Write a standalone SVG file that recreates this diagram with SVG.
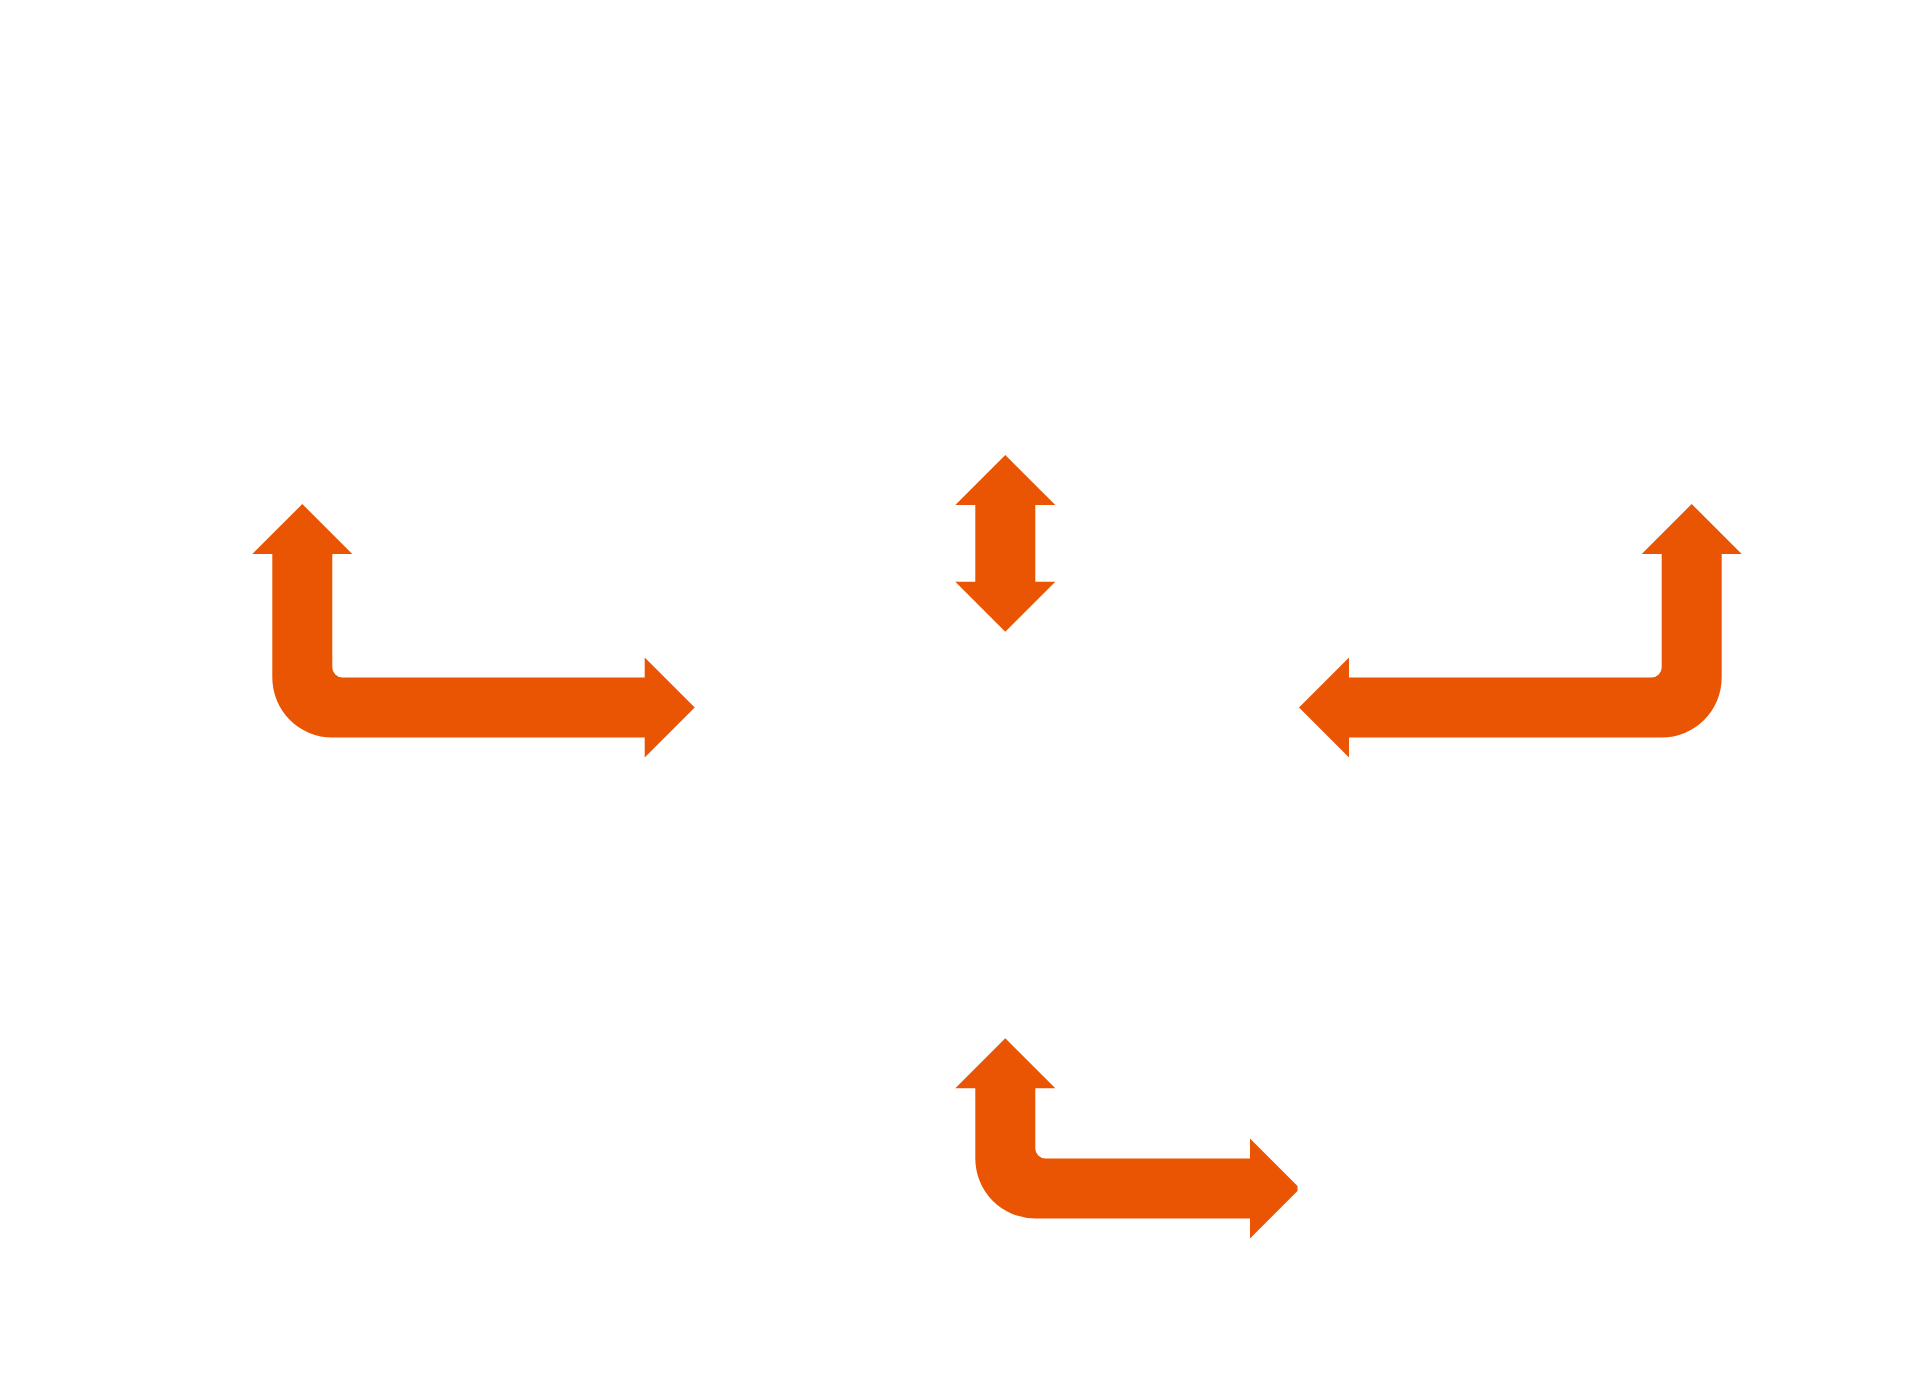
<svg xmlns="http://www.w3.org/2000/svg" width="1920" height="1400" viewBox="0 0 1920 1400">
<style>
.arr{fill:#EA5504;stroke:none}
</style>
<rect width="1920" height="1400" fill="#FFFFFF"/>
<g id="connectors">
<path id="arrow-left" class="arr" d="M 302.3 504 L 352.3 554 L 332.3 554 L 332.3 667.5 A 10 10 0 0 0 342.3 677.5 L 644.7 677.5 L 644.7 657.5 L 694.7 707.5 L 644.7 757.5 L 644.7 737.5 L 332.3 737.5 A 60 60 0 0 1 272.3 677.5 L 272.3 554 L 252.3 554 Z"/>
<path id="arrow-center" class="arr" d="M 1005.3 455 L 1055.3 505 L 1035.3 505 L 1035.3 581.7 L 1055.3 581.7 L 1005.3 631.7 L 955.3 581.7 L 975.3 581.7 L 975.3 505 L 955.3 505 Z"/>
<path id="arrow-right" class="arr" d="M 1691.7 504 L 1741.7 554 L 1721.7 554 L 1721.7 677.5 A 60 60 0 0 1 1661.7 737.5 L 1349 737.5 L 1349 757.5 L 1299 707.5 L 1349 657.5 L 1349 677.5 L 1651.7 677.5 A 10 10 0 0 0 1661.7 667.5 L 1661.7 554 L 1641.7 554 Z"/>
<path id="arrow-bottom" class="arr" d="M 1005.3 1038.3 L 1055.3 1088.3 L 1035.3 1088.3 L 1035.3 1148.5 A 10 10 0 0 0 1045.3 1158.5 L 1250 1158.5 L 1250 1138.5 L 1297.5 1186 L 1297.5 1191 L 1250 1238.5 L 1250 1218.5 L 1035.3 1218.5 A 60 60 0 0 1 975.3 1158.5 L 975.3 1088.3 L 955.3 1088.3 Z"/>
</g>
</svg>
